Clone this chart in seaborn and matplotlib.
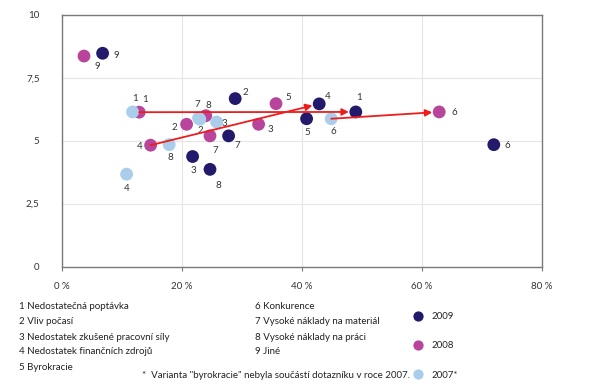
import pandas as pd
import matplotlib.pyplot as plt
import seaborn as sns

# podíl firem (x, %) a průměrné pořadí (y) podle bariér růstu, 2007-2009
years = ["2009", "2008", "2007*"]
ids_2009 = [1, 2, 3, 4, 5, 6, 7, 8, 9]
x_2009 = [49.0, 28.9, 21.8, 42.9, 40.8, 72.0, 27.8, 24.7, 6.8]
y_2009 = [6.14, 6.67, 4.37, 6.46, 5.87, 4.84, 5.19, 3.86, 8.47]
ids_2008 = [1, 2, 3, 4, 5, 6, 7, 8, 9]
x_2008 = [12.9, 20.8, 32.8, 14.8, 35.7, 62.9, 24.7, 24.0, 3.7]
y_2008 = [6.13, 5.65, 5.65, 4.82, 6.47, 6.14, 5.19, 5.99, 8.36]
ids_2007 = [1, 2, 3, 4, 6, 7, 8]
x_2007 = [11.8, 23.0, 25.8, 10.8, 44.9, 22.8, 17.9]
y_2007 = [6.14, 5.85, 5.74, 3.67, 5.87, 5.90, 4.84]

# šipky: (položka, rok od, rok do)
arrows = [(1, "2008", "2009"), (4, "2008", "2009"), (6, "2007*", "2008")]

reasons = ["1 Nedostatečná poptávka", "2 Vliv počasí", "3 Nedostatek zkušené pracovní síly",
           "4 Nedostatek finančních zdrojů", "5 Byrokracie", "6 Konkurence",
           "7 Vysoké náklady na materiál", "8 Vysoké náklady na práci", "9 Jiné"]
footnote = '*  Varianta "byrokracie" nebyla součástí dotazníku v roce 2007.'

df = pd.concat([
    pd.DataFrame({"id": ids_2009, "x": x_2009, "y": y_2009, "year": "2009"}),
    pd.DataFrame({"id": ids_2008, "x": x_2008, "y": y_2008, "year": "2008"}),
    pd.DataFrame({"id": ids_2007, "x": x_2007, "y": y_2007, "year": "2007*"}),
], ignore_index=True)

# label offsets in pixels (dx, dy), by year and item
offsets = {
    "2009": {1: (3, 14), 2: (10, 6), 3: (1, -14), 4: (9, 7), 5: (1, -14), 6: (14, -1), 7: (9, -10), 8: (8, -16), 9: (14, -2)},
    "2008": {1: (6, 13), 2: (-12, -3), 3: (12, -5), 4: (-11, -1), 5: (12, 6), 6: (15, -1), 7: (5, -15), 8: (3, 10), 9: (13, -10)},
    "2007*": {1: (2, 13), 2: (1, -11), 3: (8, -1), 4: (0, -14), 6: (2, -13), 7: (-1, 13), 8: (1, -13)},
}

palette = {"2009": "#231a6b", "2008": "#b8449b", "2007*": "#a9cdeb"}

sns.set_theme(style="white")
plt.rcParams['font.family'] = ['Lato', 'DejaVu Sans']

fig = plt.figure(figsize=(6, 3.88), dpi=100)
ax = fig.add_axes([0.103, 0.313, 0.8, 0.649])

sns.scatterplot(data=df, x="x", y="y", hue="year", hue_order=years, palette=palette,
                s=85, linewidth=0, alpha=1, ax=ax, zorder=3)

for _, r in df.iterrows():
    dx, dy = offsets[r["year"]][r["id"]]
    ax.annotate(str(r["id"]), (r["x"], r["y"]), xytext=(dx, dy), textcoords="offset pixels",
                ha="center", va="center", fontsize=7, color="#333333", zorder=4)

for item, y0, y1 in arrows:
    a = df[(df["id"] == item) & (df["year"] == y0)].iloc[0]
    b = df[(df["id"] == item) & (df["year"] == y1)].iloc[0]
    ax.annotate("", xy=(b["x"], b["y"]), xytext=(a["x"], a["y"]),
                arrowprops=dict(arrowstyle="-|>", color="#ee1c1c", lw=1.3,
                                mutation_scale=10, shrinkA=0, shrinkB=5), zorder=5)

ax.set_xlim(0, 80)
ax.set_ylim(0, 10)
ax.set_xticks([0, 20, 40, 60, 80])
ax.set_xticklabels(["0 %", "20 %", "40 %", "60 %", "80 %"])
ax.set_yticks([0, 2.5, 5, 7.5, 10])
ax.set_yticklabels(["0", "2,5", "5", "7,5", "10"])
ax.grid(True, color="#e6e6e6", lw=0.8)
ax.set_axisbelow(True)
ax.tick_params(axis="x", bottom=True, length=3, width=0.8, color="#777777", pad=8,
               labelsize=7, labelcolor="#333333")
ax.tick_params(axis="y", left=False, pad=10, labelsize=7, labelcolor="#333333")
for sp in ax.spines.values():
    sp.set_color("#7a7a7a")
    sp.set_linewidth(1)
ax.set_xlabel("")
ax.set_ylabel("")

sns.move_legend(ax, "upper left", bbox_to_anchor=(0.681, 0.196), bbox_transform=fig.transFigure,
                frameon=False, title=None, fontsize=7, labelspacing=2.1, handletextpad=0.4,
                borderpad=0, borderaxespad=0, markerscale=0.8)

col_y = [306.7, 321.7, 337.3, 352.0, 367.0]
for i, t in enumerate(reasons):
    if i < 5:
        fig.text(19 / 600, 1 - col_y[i] / 388, t, fontsize=7, color="#222222", va="center")
    else:
        fig.text(255 / 600, 1 - col_y[i - 5] / 388, t, fontsize=7, color="#222222", va="center")
fig.text(141.7 / 600, 1 - 375.7 / 388, footnote, fontsize=7, color="#222222", va="center")

fig.savefig("out.png", dpi=100)
